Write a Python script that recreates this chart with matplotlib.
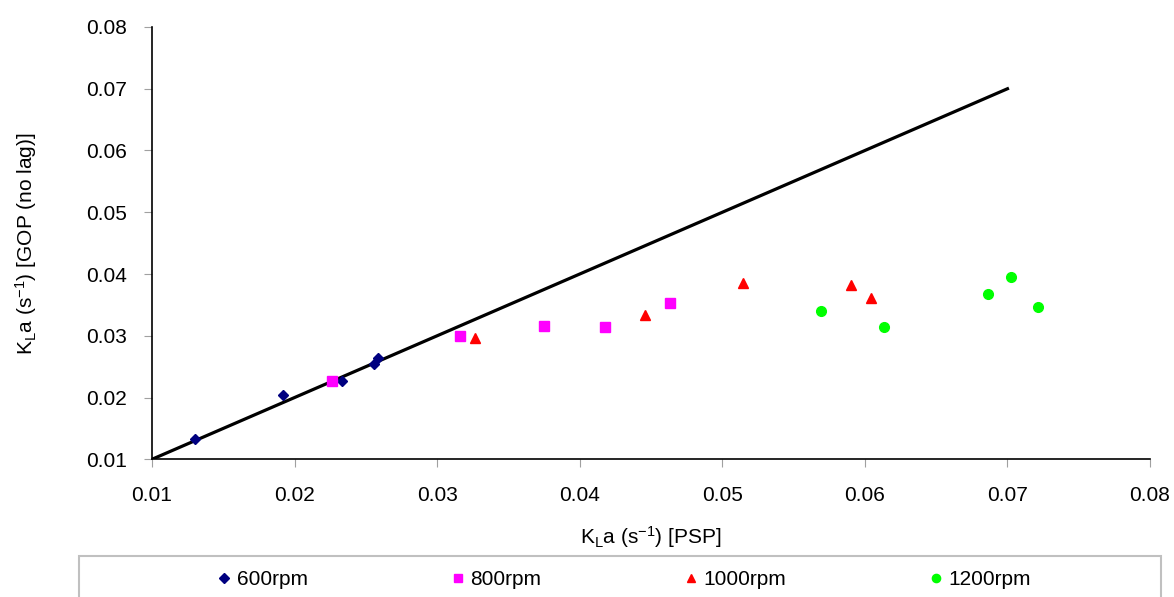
import numpy as np
import matplotlib.pyplot as plt
from matplotlib.patches import Rectangle

plt.rcParams['font.family'] = ['Liberation Sans', 'DejaVu Sans']
plt.rcParams['mathtext.default'] = 'regular'

# data
x600 = [0.01302, 0.01919, 0.02332, 0.02559, 0.02583]
y600 = [0.01324, 0.02042, 0.02269, 0.02540, 0.02637]

x800 = [0.02262, 0.03158, 0.03747, 0.04175, 0.04633]
y800 = [0.02274, 0.03003, 0.03160, 0.03149, 0.03538]

x1000 = [0.03265, 0.04457, 0.05147, 0.05902, 0.06044]
y1000 = [0.02971, 0.03339, 0.03853, 0.03825, 0.03609]

x1200 = [0.05691, 0.06133, 0.06863, 0.07024, 0.07213]
y1200 = [0.03408, 0.03149, 0.03674, 0.03959, 0.03468]

line_x = [0.01, 0.07]
line_y = [0.01, 0.07]

ticks = [0.01, 0.02, 0.03, 0.04, 0.05, 0.06, 0.07, 0.08]
labels = ['600rpm', '800rpm', '1000rpm', '1200rpm']

fs = 15

fig = plt.figure(figsize=(11.74, 5.97), dpi=100)
ax = fig.add_axes([0.1295, 0.2307, 0.9796 - 0.1295, 0.9548 - 0.2307])

ax.plot(line_x, line_y, color='black', lw=2.3, zorder=2)
ax.plot(x600, y600, 'D', color='#000080', ms=5.5, ls='none', label=labels[0], zorder=3)
ax.plot(x800, y800, 's', color='#ff00ff', ms=6.5, ls='none', label=labels[1], zorder=3)
ax.plot(x1000, y1000, '^', color='#ff0000', ms=7, ls='none', label=labels[2], zorder=3)
ax.plot(x1200, y1200, 'o', color='#00ff00', ms=7, ls='none', label=labels[3], zorder=3)

ax.set_xlim(0.01, 0.08)
ax.set_ylim(0.01, 0.08)
ax.set_xticks(ticks)
ax.set_yticks(ticks)
ax.set_xticklabels(['%.2f' % t for t in ticks])
ax.set_yticklabels(['%.2f' % t for t in ticks])
ax.tick_params(direction='out', length=6, color='#a0a0a0', labelsize=fs, pad=12)
ax.tick_params(axis='x', pad=13)
for s in ['top', 'right']:
    ax.spines[s].set_visible(False)
for s in ['left', 'bottom']:
    ax.spines[s].set_color('black')
    ax.spines[s].set_linewidth(1.2)

ax.set_xlabel('K$_L$a (s$^{-1}$) [PSP]', fontsize=fs, labelpad=14)
ax.set_ylabel('K$_L$a (s$^{-1}$) [GOP (no lag)]', fontsize=fs, labelpad=34)

# legend box (bottom cut off as in the original)
fig.patches.append(Rectangle((79 / 1174, -0.05), (1161 - 79) / 1174, (597 - 556) / 597 + 0.05,
                             transform=fig.transFigure, fill=False, edgecolor='#c0c0c0', lw=1.5))
h, l = ax.get_legend_handles_labels()
fig.legend(h, l, ncol=4, loc='center', bbox_to_anchor=(0.532, 0.0285), frameon=False,
           fontsize=fs, handlelength=0.6, handletextpad=0.3, columnspacing=6.9,
           markerscale=0.85)

fig.savefig('out.png', dpi=100)
